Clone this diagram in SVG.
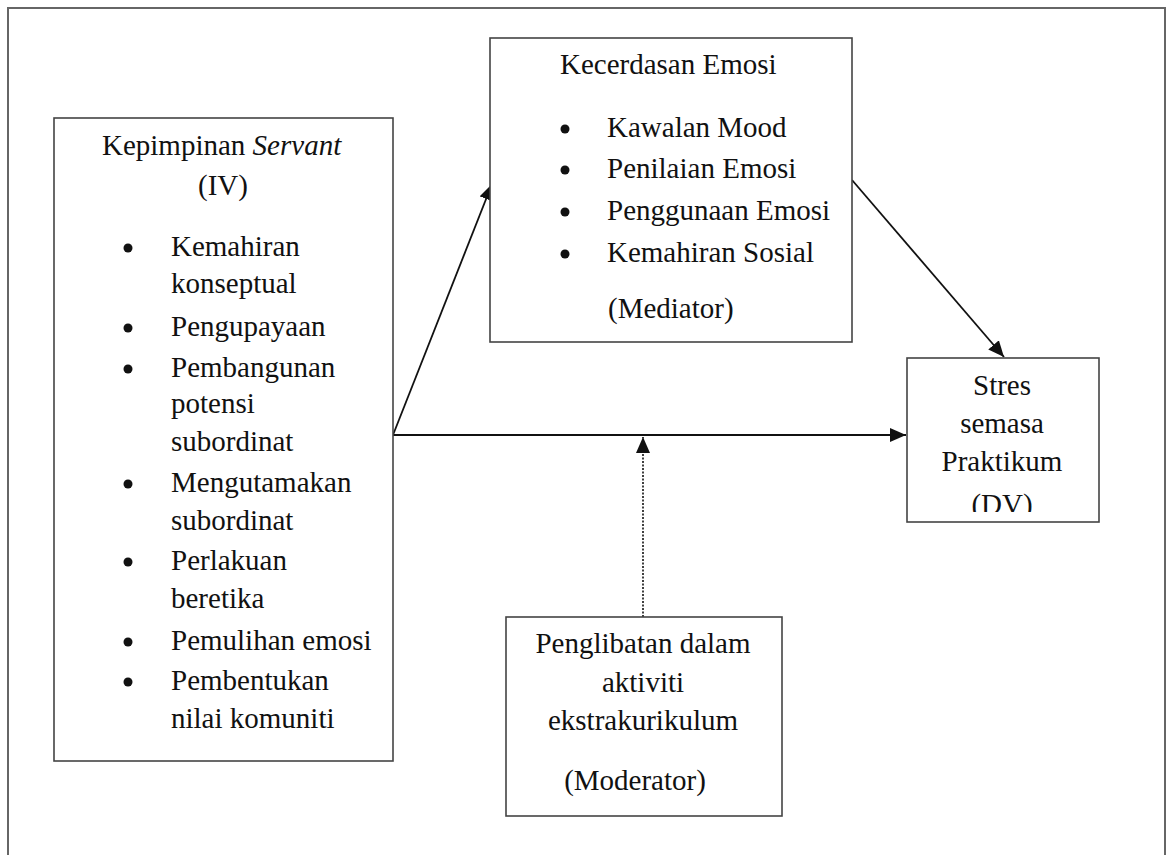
<svg xmlns="http://www.w3.org/2000/svg" width="1167" height="855" viewBox="0 0 1167 855">
<defs>
<style>
text{font-family:"Liberation Serif","Times New Roman",serif;font-size:29px;fill:#111}
.box{fill:#fff;stroke:#444;stroke-width:1.6}
.c{text-anchor:middle}
.b{fill:#111}
.conn{stroke:#111;stroke-width:1.8;fill:none}
.dot{stroke:#111;stroke-width:1.6;fill:none;stroke-dasharray:2 1.5}
</style>
<marker id="ahb" viewBox="0 0 16 14" refX="16" refY="7" markerWidth="16" markerHeight="14" markerUnits="userSpaceOnUse" orient="auto">
<path d="M0,0 L16,7 L0,14 z" fill="#111"/>
</marker>
<clipPath id="dvclip"><rect x="907" y="358" width="192" height="154"/></clipPath>
</defs>
<rect x="0" y="0" width="1167" height="855" fill="#fff"/>
<path d="M8,870 L8,8 L1165,8 L1165,870" fill="none" stroke="#666" stroke-width="2"/>

<g id="connectors">
<line class="conn" x1="393" y1="435" x2="492" y2="184" marker-end="url(#ahb)"/>
<line class="conn" x1="852" y1="180" x2="1004" y2="357" marker-end="url(#ahb)"/>
<line class="conn" x1="393" y1="435" x2="906" y2="435" marker-end="url(#ahb)"/>
<line class="dot" x1="643" y1="617" x2="643" y2="437" marker-end="url(#ahb)"/>
</g>

<g id="iv">
<rect class="box" x="54" y="118" width="339" height="643"/>
<text x="102" y="155">Kepimpinan <tspan font-style="italic">Servant</tspan></text>
<text class="c" x="223" y="195">(IV)</text>
<circle class="b" cx="128" cy="248" r="4.5"/><text x="171" y="256">Kemahiran</text>
<text x="171" y="293">konseptual</text>
<circle class="b" cx="128" cy="328" r="4.5"/><text x="171" y="336">Pengupayaan</text>
<circle class="b" cx="128" cy="369" r="4.5"/><text x="171" y="377">Pembangunan</text>
<text x="171" y="413">potensi</text>
<text x="171" y="451">subordinat</text>
<circle class="b" cx="128" cy="484" r="4.5"/><text x="171" y="492">Mengutamakan</text>
<text x="171" y="530">subordinat</text>
<circle class="b" cx="128" cy="562" r="4.5"/><text x="171" y="570">Perlakuan</text>
<text x="171" y="608">beretika</text>
<circle class="b" cx="128" cy="642" r="4.5"/><text x="171" y="650">Pemulihan emosi</text>
<circle class="b" cx="128" cy="682" r="4.5"/><text x="171" y="690">Pembentukan</text>
<text x="171" y="728">nilai komuniti</text>
</g>

<g id="mediator">
<rect class="box" x="490" y="38" width="362" height="304"/>
<text x="560" y="74">Kecerdasan Emosi</text>
<circle class="b" cx="565" cy="129" r="4.5"/><text x="607" y="137">Kawalan Mood</text>
<circle class="b" cx="565" cy="170" r="4.5"/><text x="607" y="178">Penilaian Emosi</text>
<circle class="b" cx="565" cy="212" r="4.5"/><text x="607" y="220">Penggunaan Emosi</text>
<circle class="b" cx="565" cy="254" r="4.5"/><text x="607" y="262">Kemahiran Sosial</text>
<text x="608" y="318">(Mediator)</text>
</g>

<g id="dv">
<rect class="box" x="907" y="358" width="192" height="164"/>
<g clip-path="url(#dvclip)">
<text class="c" x="1002" y="395">Stres</text>
<text class="c" x="1002" y="433">semasa</text>
<text class="c" x="1002" y="471">Praktikum</text>
<text class="c" x="1002" y="514">(DV)</text>
</g>
</g>

<g id="moderator">
<rect class="box" x="506" y="617" width="276" height="199"/>
<text class="c" x="643" y="653">Penglibatan dalam</text>
<text class="c" x="643" y="692">aktiviti</text>
<text class="c" x="643" y="730">ekstrakurikulum</text>
<text class="c" x="635" y="790">(Moderator)</text>
</g>
</svg>
